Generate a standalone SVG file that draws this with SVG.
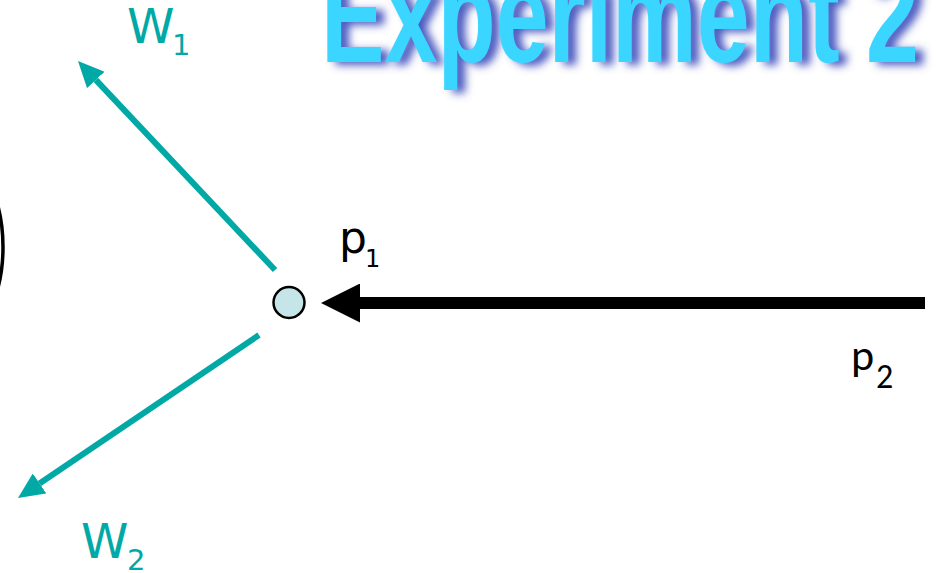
<svg xmlns="http://www.w3.org/2000/svg" width="936" height="573" viewBox="0 0 936 573">
<style>
.teal{fill:#00a9a6;font-family:"DejaVu Sans",Verdana,sans-serif}
.blk{fill:#000;font-family:"DejaVu Sans",Verdana,sans-serif}
.blk2{fill:#000;font-family:Carlito,"Liberation Sans",sans-serif}
.title{font-family:"Liberation Sans",Arial,sans-serif;font-weight:bold;font-size:136px}
</style>
<defs>
<filter id="blur" x="-10%" y="-50%" width="120%" height="200%"><feGaussianBlur stdDeviation="4"/></filter>
<marker id="ht" markerUnits="userSpaceOnUse" markerWidth="26" markerHeight="24" viewBox="0 0 26 24" refX="0" refY="12" orient="auto"><path d="M0,0 L26,12 L0,24 z" fill="#00a9a6"/></marker>
<marker id="hb" markerUnits="userSpaceOnUse" markerWidth="39" markerHeight="39" viewBox="0 0 39 39" refX="0" refY="19.5" orient="auto"><path d="M0,0 L39,19.5 L0,39 z" fill="#000"/></marker>
</defs>
<rect width="936" height="573" fill="#fff"/>
<g id="title">
<text class="title" x="329" y="65" textLength="598" lengthAdjust="spacingAndGlyphs" fill="#4a58c0" filter="url(#blur)">Experiment 2</text>
<text class="title" x="321" y="62" textLength="598" lengthAdjust="spacingAndGlyphs" fill="#3bd6ff">Experiment 2</text>
</g>
<g id="ellipse"><ellipse cx="-57" cy="247" rx="60" ry="100" fill="none" stroke="#000" stroke-width="3.5"/></g>
<g id="connectors">
<line x1="275" y1="270" x2="95.8" y2="79.9" stroke="#00a9a6" stroke-width="6" marker-end="url(#ht)"/>
<line x1="259" y1="335" x2="39.5" y2="483.4" stroke="#00a9a6" stroke-width="6" marker-end="url(#ht)"/>
<line x1="925" y1="303" x2="360" y2="303" stroke="#000" stroke-width="12" marker-end="url(#hb)"/>
</g>
<g id="node-p1"><circle cx="289" cy="302.5" r="15.5" fill="#c5e5e8" stroke="#000" stroke-width="2.5"/></g>
<g id="label-w1"><text class="teal" x="127" y="43" font-size="48">W</text><text class="teal" x="172" y="55" font-size="29">1</text></g>
<g id="label-w2"><text class="teal" x="81" y="558" font-size="48">W</text><text class="teal" x="127" y="570" font-size="29">2</text></g>
<g id="label-p1"><text class="blk" x="339" y="253" font-size="44">p</text><text class="blk" x="365" y="267" font-size="24">1</text></g>
<g id="label-p2"><text class="blk2" x="851" y="370" font-size="44">p</text><text class="blk2" x="876" y="388" font-size="34">2</text></g>
</svg>
